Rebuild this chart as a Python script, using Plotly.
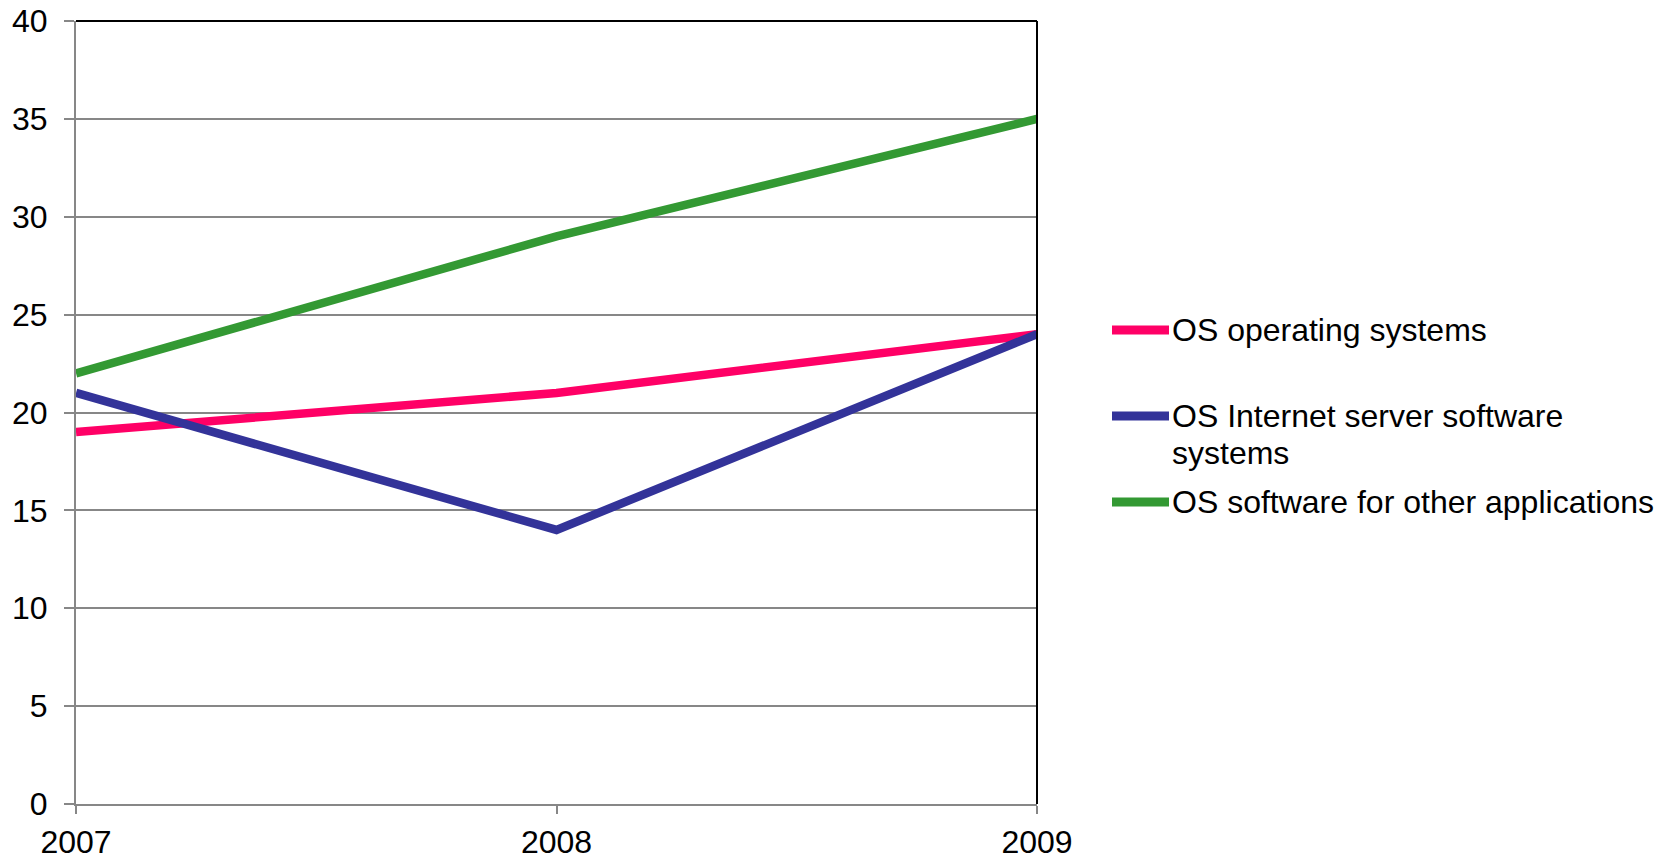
import plotly.graph_objects as go

# Chart data
years = [2007, 2008, 2009]
series_names = [
    "OS operating systems",
    "OS Internet server software<br>systems",
    "OS software for other applications",
]
os_operating = [19, 21, 24]
os_internet_server = [21, 14, 24]
os_other_apps = [22, 29, 35]
series_colors = ["#FF0066", "#333399", "#339933"]
y_ticks = [0, 5, 10, 15, 20, 25, 30, 35, 40]

W, H = 1672, 859
L, R, T, B = 76, 635, 21, 55
FONT = "Liberation Sans, Arial, sans-serif"
FS = 32
GRID = "#878787"

fig = go.Figure()
for name, vals, col in zip(series_names, [os_operating, os_internet_server, os_other_apps], series_colors):
    fig.add_trace(go.Scatter(
        x=years, y=vals, mode="lines", name=name,
        line=dict(color=col, width=8.5), showlegend=False, cliponaxis=False,
    ))

fig.update_layout(
    width=W, height=H,
    margin=dict(l=L, r=R, t=T, b=B, autoexpand=False),
    paper_bgcolor="white", plot_bgcolor="white",
    font=dict(family=FONT, size=FS, color="black"),
    xaxis=dict(
        range=[2007, 2009], tickvals=years, ticktext=[str(y) for y in years],
        showgrid=False, zeroline=False, showline=True, linecolor=GRID, linewidth=2,
        ticks="outside", ticklen=8, tickcolor=GRID, tickwidth=2,
        ticklabelstandoff=1, tickfont=dict(size=FS), automargin=False,
    ),
    yaxis=dict(
        range=[0, 40], tickvals=y_ticks,
        showgrid=True, gridcolor=GRID, gridwidth=1.5, zeroline=False,
        showline=True, linecolor=GRID, linewidth=2,
        ticks="outside", ticklen=10, tickcolor=GRID, tickwidth=1.5,
        ticklabelstandoff=10, tickfont=dict(size=FS), automargin=False,
    ),
)

# Black frame on the top and right edges of the plot area
fig.add_shape(type="line", xref="paper", yref="paper", x0=0, x1=1, y0=1, y1=1,
              line=dict(color="black", width=2))
fig.add_shape(type="line", xref="paper", yref="paper", x0=1, x1=1, y0=0, y1=1,
              line=dict(color="black", width=2))

# Legend drawn to the right of the plot (pixel positions converted to paper units)
PW, PH = W - L - R, H - T - B


def px_x(x):
    return (x - L) / PW


def px_y(y):
    return (H - B - y) / PH


legend_y = [330, 416, 502]
line_gap = 37
sample_x0, sample_x1, text_x = 1112, 1169, 1171
for name, col, ly in zip(series_names, series_colors, legend_y):
    fig.add_shape(type="line", xref="paper", yref="paper",
                  x0=px_x(sample_x0), x1=px_x(sample_x1), y0=px_y(ly), y1=px_y(ly),
                  line=dict(color=col, width=9))
    for i, part in enumerate(name.split("<br>")):
        fig.add_annotation(xref="paper", yref="paper",
                           x=px_x(text_x), y=px_y(ly + i * line_gap),
                           text=part, showarrow=False, xanchor="left", yanchor="middle",
                           borderpad=0, font=dict(size=FS, family=FONT, color="black"))

fig.write_html("out.html")
